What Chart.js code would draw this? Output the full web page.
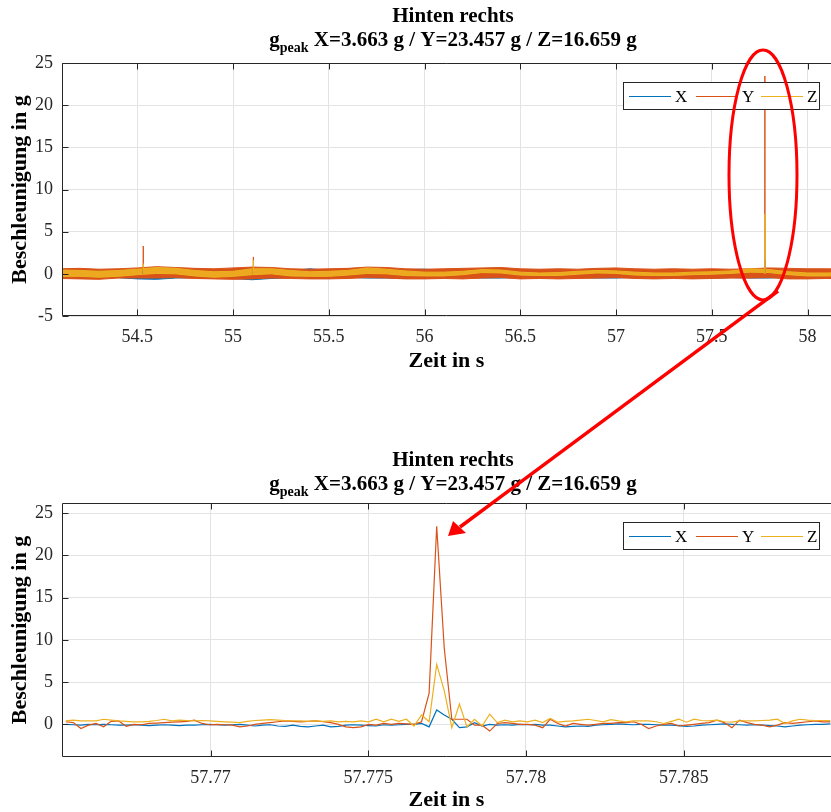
<!DOCTYPE html>
<html>
<head>
<meta charset="utf-8">
<title>Hinten rechts</title>
<script src="https://cdn.jsdelivr.net/npm/chart.js@4.4.1/dist/chart.umd.min.js"></script>
<style>
  body { margin: 0; background: #fff; }
  #page { position: relative; width: 831px; height: 812px; overflow: hidden; }
  #page canvas { position: absolute; left: 0; }
  #overlay { position: absolute; left: 0; top: 0; pointer-events: none; }
</style>
</head>
<body>
<div id="page">
  <canvas id="overview" width="831" height="400" style="top:0"></canvas>
  <canvas id="detail" width="831" height="412" style="top:400px"></canvas>
  <svg id="overlay" width="831" height="812">
    <ellipse cx="763" cy="175" rx="34" ry="125" fill="none" stroke="#ff0000" stroke-width="3"/>
    <line x1="778" y1="291" x2="460" y2="527" stroke="#ff0000" stroke-width="3.5"/>
    <polygon points="448,536 453,521 466,533" fill="#ff0000"/>
  </svg>
</div>
<script>
// ---------- data ----------
const seriesNames = ['X', 'Y', 'Z'];
const seriesColors = ['#0072BD', '#D95319', '#EDB120'];
const titleLine1 = 'Hinten rechts';
const titleRest = ' X=3.663 g / Y=23.457 g / Z=16.659 g';

// overview: upper / lower edge of the noise band, read every 0.1 s from 54.1 s
const bandStart = 54.1;
const bandStep = 0.1;
const topXHi = [0.55, 0.5, 0.45, 0.3, 0.4, 0.5, 0.35, 0.55, 0.45, 0.3, 0.5, 0.45, 0.35, 0.6, 0.4, 0.35, 0.4, 0.45, 0.5, 0.55, 0.4,
  0.35, 0.45, 0.4, 0.35, 0.45, 0.4, 0.35, 0.45, 0.4, 0.35, 0.4, 0.45, 0.4, 0.35, 0.4, 0.5, 0.55, 0.45, 0.4, 0.45, 0.4];
const topXLo = [-0.3, -0.35, -0.4, -0.45, -0.6, -0.65, -0.5, -0.45, -0.5, -0.55, -0.7, -0.55, -0.45, -0.4, -0.45, -0.4, -0.5, -0.5, -0.55, -0.5, -0.4,
  -0.45, -0.5, -0.5, -0.4, -0.45, -0.4, -0.45, -0.5, -0.5, -0.4, -0.45, -0.4, -0.45, -0.5, -0.45, -0.5, -0.5, -0.4, -0.45, -0.5, -0.45];
const topYHi = [0.6, 0.65, 0.55, 0.6, 0.7, 0.85, 0.75, 0.65, 0.6, 0.7, 0.8, 0.75, 0.6, 0.55, 0.6, 0.65, 0.8, 0.75, 0.6, 0.55, 0.6,
  0.65, 0.7, 0.75, 0.6, 0.55, 0.6, 0.55, 0.65, 0.7, 0.6, 0.55, 0.6, 0.55, 0.6, 0.55, 0.6, 0.7, 0.65, 0.6, 0.6, 0.55];
const topYLo = [-0.55, -0.6, -0.65, -0.5, -0.5, -0.5, -0.45, -0.55, -0.6, -0.65, -0.6, -0.5, -0.55, -0.6, -0.6, -0.55, -0.45, -0.5, -0.6, -0.6, -0.55,
  -0.6, -0.5, -0.45, -0.6, -0.55, -0.6, -0.55, -0.5, -0.45, -0.55, -0.6, -0.55, -0.6, -0.55, -0.5, -0.5, -0.45, -0.6, -0.6, -0.55, -0.6];
const topZHi = [0.45, 0.4, 0.3, 0.4, 0.55, 0.75, 0.65, 0.4, 0.25, 0.3, 0.6, 0.6, 0.4, 0.25, 0.3, 0.4, 0.7, 0.55, 0.35, 0.2, 0.2,
  0.3, 0.5, 0.45, 0.2, 0.1, 0.15, 0.3, 0.4, 0.35, 0.2, 0.1, 0.1, 0.2, 0.25, 0.35, 0.6, 0.5, 0.25, 0.1, 0.1, 0.15];
const topZLo = [-0.3, -0.3, -0.4, -0.3, -0.1, 0.05, 0.0, -0.25, -0.4, -0.3, -0.1, 0.0, -0.25, -0.3, -0.3, -0.15, 0.05, 0.0, -0.2, -0.25, -0.25,
  -0.1, 0.15, 0.1, -0.15, -0.2, -0.2, -0.05, 0.1, 0.05, -0.15, -0.2, -0.2, -0.1, -0.05, 0.05, 0.2, 0.15, -0.1, -0.25, -0.25, -0.2];

// single-sample spikes in the overview
const spikeTimes = [54.531, 55.106, 57.777];
const spikeX = [0.4, 0.3, 1.7];
const spikeY = [3.3, 2.0, 23.457];
const spikeZ = [1.2, 1.6, 7.1];

const topXTicks = [54.5, 55, 55.5, 56, 56.5, 57, 57.5, 58];
const topYTicks = [-5, 0, 5, 10, 15, 20, 25];

// detail: samples every 0.24 ms
const detailStart = 57.765409;
const detailStep = 0.00024;
const detailX = [0.0, -0.05, -0.1, 0.0, -0.05, 0.0, -0.05, -0.1, -0.1, -0.05,
  -0.1, -0.15, -0.1, -0.05, -0.1, -0.15, -0.1, -0.1, -0.05, 0.0,
  -0.05, -0.1, -0.05, 0.0, -0.1, -0.2, -0.1, -0.05, -0.2, -0.25,
  -0.1, -0.25, -0.3, -0.2, -0.1, -0.3, -0.25, -0.1, -0.05, -0.1,
  -0.15, -0.2, -0.05, -0.1, -0.05, 0.0, 0.0, 0.1, -0.3, 1.7,
  1.1, 0.6, -0.4, -0.3, 0.2, -0.2, 0.0, -0.1, -0.05, -0.1,
  0.0, -0.05, 0.0, -0.1, -0.1, -0.2, -0.3, -0.25, -0.2, -0.25,
  -0.1, -0.05, 0.0, 0.05, 0.0, -0.05, 0.0, 0.0, -0.05, -0.1,
  -0.1, -0.15, -0.25, -0.2, -0.1, -0.05, 0.0, 0.05, 0.0, -0.05,
  -0.1, -0.05, -0.1, -0.15, -0.2, -0.3, -0.2, -0.1, -0.05, 0.0,
  0.0, 0.05];
const detailY = [0.3, 0.2, -0.5, -0.1, 0.1, -0.3, 0.35, 0.4, -0.25, 0.0,
  -0.05, 0.1, 0.15, 0.2, 0.25, 0.3, 0.35, 0.5, 0.1, -0.05,
  0.0, -0.05, -0.1, -0.3, -0.2, 0.0, 0.1, 0.2, 0.3, 0.4,
  0.35, 0.3, 0.35, 0.4, 0.3, 0.2, 0.0, -0.3, -0.4, -0.3,
  0.0, -0.1, 0.1, 0.0, 0.1, 0.05, 0.0, 0.3, 3.7, 23.457,
  9.0, 0.6, 0.6, 0.6, -0.1, -0.1, -0.8, 0.1, 0.2, 0.1,
  0.0, 0.0, -0.1, -0.4, 0.6, 0.1, -0.2, 0.1, 0.0, -0.1,
  0.0, 0.1, 0.1, 0.2, 0.2, 0.3, 0.0, -0.5, -0.2, 0.0,
  0.1, -0.2, -0.1, 0.0, 0.1, 0.2, 0.5, 0.2, -0.4, 0.5,
  0.2, 0.0, -0.1, -0.3, -0.1, 0.2, 0.1, 0.2, 0.3, 0.4,
  0.3, 0.3];
const detailZ = [0.4, 0.5, 0.4, 0.4, 0.4, 0.6, 0.5, 0.4, 0.35, 0.3,
  0.3, 0.35, 0.45, 0.6, 0.4, 0.5, 0.45, 0.4, 0.45, 0.4,
  0.35, 0.3, 0.25, 0.2, 0.35, 0.45, 0.5, 0.55, 0.5, 0.45,
  0.4, 0.4, 0.35, 0.4, 0.35, 0.4, 0.3, 0.35, 0.3, 0.4,
  0.3, 0.6, 0.3, 0.6, 0.35, 0.6, -0.2, 1.1, 0.3, 7.1,
  4.0, -0.4, 2.4, -0.3, 0.6, -0.2, 1.2, 0.2, 0.5, 0.3,
  0.4, 0.3, 0.5, 0.2, 0.7, 0.25, 0.35, 0.4, 0.5, 0.6,
  0.45, 0.3, 0.55, 0.4, 0.3, 0.4, 0.4, 0.4, 0.3, 0.1,
  0.35, 0.6, 0.25, 0.6, 0.45, 0.4, 0.5, 0.3, 0.25, 0.4,
  0.4, 0.4, 0.45, 0.5, 0.6, 0.1, 0.4, 0.6, 0.5, 0.45,
  0.45, 0.45];

const detailXTicks = [57.77, 57.775, 57.78, 57.785];
const detailYTicks = [0, 5, 10, 15, 20, 25];

// ---------- helpers ----------
const serif = '"Liberation Serif", "Times New Roman", serif';
const axisColor = '#262626';
const gridColor = '#e3e3e3';

function bandPoints(arr) {
  return arr.map((v, i) => ({ x: bandStart + i * bandStep, y: v }));
}
function spikePoints(heights) {
  const pts = [];
  spikeTimes.forEach((t, i) => {
    pts.push({ x: t - 0.0004, y: 0 }, { x: t, y: heights[i] }, { x: t + 0.0004, y: 0 }, { x: t + 0.0005, y: null });
  });
  return pts;
}
function samplePoints(arr) {
  return arr.map((v, i) => ({ x: detailStart + i * detailStep, y: v }));
}

// figure title with the "peak" subscript
const figTitle = {
  id: 'figTitle',
  afterDraw(chart, args, opts) {
    const ctx = chart.ctx;
    const cx = 453;
    ctx.save();
    ctx.fillStyle = '#000';
    ctx.textBaseline = 'alphabetic';
    ctx.font = 'bold 21px ' + serif;
    ctx.textAlign = 'center';
    ctx.fillText(titleLine1, cx, opts.y1);
    ctx.textAlign = 'left';
    const wg = ctx.measureText('g').width;
    const wr = ctx.measureText(titleRest).width;
    ctx.font = 'bold 14px ' + serif;
    const ws = ctx.measureText('peak').width;
    let x = cx - (wg + ws + wr) / 2;
    ctx.font = 'bold 21px ' + serif;
    ctx.fillText('g', x, opts.y2);
    ctx.font = 'bold 14px ' + serif;
    ctx.fillText('peak', x + wg, opts.y2 + 6);
    ctx.font = 'bold 21px ' + serif;
    ctx.fillText(titleRest, x + wg + ws, opts.y2);
    ctx.restore();
  }
};

// axes box with inward tick marks (right side is cut off in the figure)
const axesBox = {
  id: 'axesBox',
  afterDatasetsDraw(chart) {
    const { ctx, chartArea: a, scales } = chart;
    const L = Math.round(a.left) + 0.5, T = Math.round(a.top) + 0.5, B = Math.round(a.bottom) - 0.5;
    ctx.save();
    ctx.strokeStyle = axisColor;
    ctx.lineWidth = 1;
    ctx.beginPath();
    ctx.moveTo(a.right, T); ctx.lineTo(L, T); ctx.lineTo(L, B); ctx.lineTo(a.right, B);
    scales.x.ticks.forEach(t => {
      const x = Math.round(scales.x.getPixelForValue(t.value)) + 0.5;
      ctx.moveTo(x, B); ctx.lineTo(x, B - 6);
      ctx.moveTo(x, T); ctx.lineTo(x, T + 6);
    });
    scales.y.ticks.forEach(t => {
      const y = Math.round(scales.y.getPixelForValue(t.value)) + 0.5;
      ctx.moveTo(L, y); ctx.lineTo(L + 6, y);
    });
    ctx.stroke();
    ctx.restore();
  }
};

// MATLAB style legend box in the upper right
const boxLegend = {
  id: 'boxLegend',
  afterDraw(chart) {
    const { ctx, chartArea: a } = chart;
    const left = 623.5, top = Math.round(a.top) + 19.5, w = 196, h = 27;
    const cy = Math.round(top + h / 2) + 0.5;
    const starts = [629, 696, 761];
    ctx.save();
    ctx.fillStyle = '#fff';
    ctx.fillRect(left, top, w, h);
    ctx.strokeStyle = axisColor;
    ctx.lineWidth = 1;
    ctx.strokeRect(left, top, w, h);
    ctx.font = '17px ' + serif;
    ctx.textBaseline = 'middle';
    ctx.textAlign = 'left';
    seriesNames.forEach((n, i) => {
      ctx.strokeStyle = seriesColors[i];
      ctx.beginPath();
      ctx.moveTo(starts[i], cy);
      ctx.lineTo(starts[i] + 42, cy);
      ctx.stroke();
      ctx.fillStyle = '#000';
      ctx.fillText(n, starts[i] + 46, cy + 1);
    });
    ctx.restore();
  }
};

function scalesFor(xMin, xMax, xTicks, yMin, yMax, yTicks, xHeight, titlePadBottom) {
  return {
    x: {
      type: 'linear', min: xMin, max: xMax,
      afterBuildTicks: s => { s.ticks = xTicks.map(v => ({ value: v })); },
      afterFit: s => { s.height = xHeight; },
      ticks: { font: { family: serif, size: 18 }, color: axisColor, padding: 10, maxRotation: 0, autoSkip: false, callback: v => String(v) },
      grid: { color: gridColor, drawTicks: false },
      border: { display: false },
      title: { display: true, text: 'Zeit in s', color: '#000', font: { family: serif, size: 22, weight: 'bold' }, padding: { top: 0, bottom: titlePadBottom } }
    },
    y: {
      type: 'linear', min: yMin, max: yMax,
      afterBuildTicks: s => { s.ticks = yTicks.map(v => ({ value: v })); },
      afterFit: s => { s.width = 62; },
      ticks: { font: { family: serif, size: 18 }, color: axisColor, padding: 9, callback: v => String(v) },
      grid: { color: gridColor, drawTicks: false },
      border: { display: false },
      title: { display: true, text: 'Beschleunigung in g', color: '#000', font: { family: serif, size: 22, weight: 'bold' }, padding: { top: 7, bottom: 0 } }
    }
  };
}

const common = {
  responsive: false,
  animation: false,
  events: [],
  parsing: false,
  elements: { point: { radius: 0 }, line: { tension: 0 } }
};

// ---------- overview chart ----------
const bandFill = [seriesColors[0], seriesColors[1], 'rgba(237,177,32,0.9)'];
const bandDatasets = [];
[[topZHi, topZLo, 2], [topYHi, topYLo, 1], [topXHi, topXLo, 0]].forEach(([hi, lo, k]) => {
  bandDatasets.push({ label: seriesNames[k], data: bandPoints(hi), borderColor: seriesColors[k], backgroundColor: bandFill[k], borderWidth: 1, fill: '+1' });
  bandDatasets.push({ label: seriesNames[k], data: bandPoints(lo), borderColor: seriesColors[k], borderWidth: 1, fill: false });
});

new Chart(document.getElementById('overview'), {
  type: 'line',
  data: {
    datasets: [
      { label: 'Z', data: spikePoints(spikeZ), borderColor: seriesColors[2], borderWidth: 1, fill: false, spanGaps: false },
      { label: 'Y', data: spikePoints(spikeY), borderColor: seriesColors[1], borderWidth: 1, fill: false, spanGaps: false },
      { label: 'X', data: spikePoints(spikeX), borderColor: seriesColors[0], borderWidth: 1, fill: false, spanGaps: false }
    ].concat(bandDatasets)
  },
  options: Object.assign({}, common, {
    layout: { padding: { top: 63, left: 0, right: 0, bottom: 0 } },
    scales: scalesFor(54.1068, 58.1225, topXTicks, -5, 25, topYTicks, 84, 25),
    plugins: { legend: { display: false }, tooltip: { enabled: false }, figTitle: { y1: 22, y2: 46 } }
  }),
  plugins: [axesBox, boxLegend, figTitle]
});

// ---------- detail chart ----------
new Chart(document.getElementById('detail'), {
  type: 'line',
  data: {
    datasets: [
      { label: 'Z', data: samplePoints(detailZ), borderColor: seriesColors[2], borderWidth: 1.2, fill: false },
      { label: 'Y', data: samplePoints(detailY), borderColor: seriesColors[1], borderWidth: 1.2, fill: false },
      { label: 'X', data: samplePoints(detailX), borderColor: seriesColors[0], borderWidth: 1.2, fill: false }
    ]
  },
  options: Object.assign({}, common, {
    layout: { padding: { top: 103, left: 0, right: 0, bottom: 0 } },
    scales: scalesFor(57.76529, 57.78967, detailXTicks, -3.87, 26.2, detailYTicks, 55, -2),
    plugins: { legend: { display: false }, tooltip: { enabled: false }, figTitle: { y1: 66, y2: 90 } }
  }),
  plugins: [axesBox, boxLegend, figTitle]
});
</script>
</body>
</html>
